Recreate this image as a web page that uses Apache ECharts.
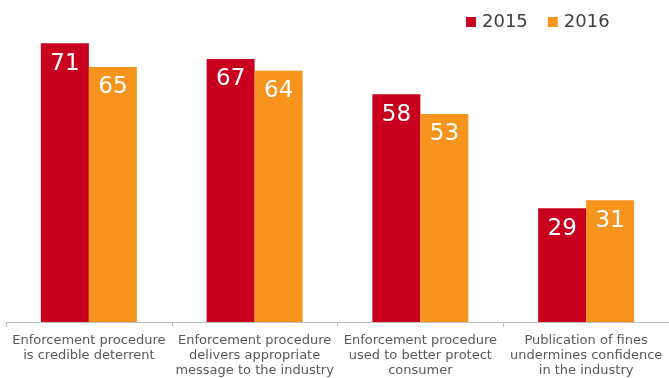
<!DOCTYPE html>
<html>
<head>
<meta charset="utf-8">
<style>
  html, body { margin: 0; padding: 0; background: #fff; }
  #chart { width: 669px; height: 378px; }
</style>
<script src="https://cdn.jsdelivr.net/npm/echarts@6/dist/echarts.min.js"></script>
</head>
<body>
<div id="chart"></div>
<script>
// Survey statements shown along the category axis
var categories = [
  'Enforcement procedure\nis credible deterrent',
  'Enforcement procedure\ndelivers appropriate\nmessage to the industry',
  'Enforcement procedure\nused to better protect\nconsumer',
  'Publication of fines\nundermines confidence\nin the industry'
];
// Share of agreement per year
var values2015 = [71, 67, 58, 29];
var values2016 = [65, 64, 53, 31];
var seriesNames = ['2015', '2016'];

var FONT = 'DejaVu Sans';
var RED = '#c8001e';
var ORANGE = '#f7941d';

var valueLabel = {
  show: true,
  position: 'insideTop',
  distance: 9,
  color: '#ffffff',
  fontFamily: FONT,
  fontSize: 23
};

var chart = echarts.init(document.getElementById('chart'), null, { renderer: 'canvas' });
chart.setOption({
  animation: false,
  backgroundColor: '#ffffff',
  legend: {
    data: seriesNames,
    left: 466,
    top: 13,
    padding: 0,
    itemWidth: 10,
    itemHeight: 10,
    itemGap: 20,
    icon: 'rect',
    textStyle: {
      fontFamily: FONT,
      fontSize: 18,
      color: '#404040',
      padding: [0, 0, 0, 1]
    }
  },
  grid: { left: 6, width: 668, top: 8, bottom: 56, containLabel: false },
  xAxis: {
    type: 'category',
    data: categories,
    axisLine: { show: true, lineStyle: { color: '#bfbfbf', width: 1 } },
    axisTick: { show: true, length: 5, lineStyle: { color: '#bfbfbf' } },
    axisLabel: {
      interval: 0,
      margin: 11,
      color: '#595959',
      fontFamily: FONT,
      fontSize: 13,
      lineHeight: 15,
      align: 'center'
    }
  },
  yAxis: {
    type: 'value',
    min: 0,
    max: 80,
    show: false,
    splitLine: { show: false }
  },
  series: [
    {
      name: seriesNames[0],
      type: 'bar',
      data: values2015,
      barWidth: 48,
      barGap: '0%',
      itemStyle: { color: RED },
      label: valueLabel
    },
    {
      name: seriesNames[1],
      type: 'bar',
      data: values2016,
      barWidth: 48,
      barGap: '0%',
      itemStyle: { color: ORANGE },
      label: valueLabel
    }
  ]
});
</script>
</body>
</html>
